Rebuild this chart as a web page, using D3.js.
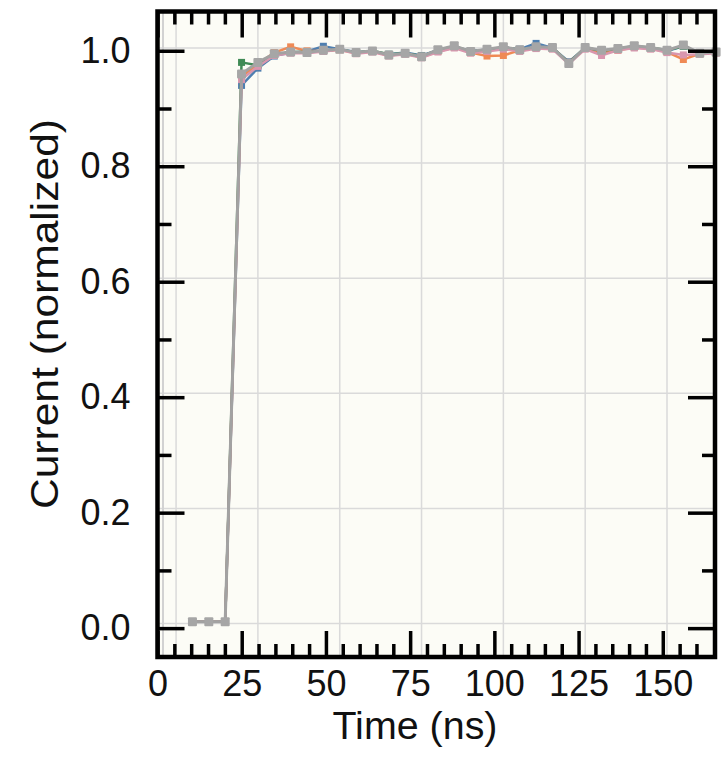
<!DOCTYPE html>
<html>
<head>
<meta charset="utf-8">
<script src="https://cdn.jsdelivr.net/npm/d3@7"></script>
<style>
  body { margin: 0; background: #fff; }
  text { font-family: "Liberation Sans", Arial, sans-serif; fill: #111; }
</style>
</head>
<body>
<script>
// time points (ns)
const times = [5, 10, 15, 20, 25, 30, 35, 40, 45, 50, 55, 60, 65, 70, 75, 80, 85, 90, 95, 100,
  105, 110, 115, 120, 125, 130, 135, 140, 145, 150, 155, 160, 165];

// normalized current for each trace
const grayVals = [0.003, 0.003, 0.003, 0.955, 0.975, 0.990, 0.993, 0.992, 0.996, 0.998, 0.992, 0.995, 0.988, 0.991, 0.985, 0.997, 1.004,
  0.994, 0.998, 1.002, 0.997, 1.002, 1.001, 0.973, 1.001, 0.996, 0.999, 1.004, 1.001, 0.996, 1.005, 0.991, 0.993];
const blueVals = [0.003, 0.003, 0.003, 0.935, 0.965, 0.986, 0.992, 0.994, 1.003, 0.998, 0.993, 0.994, 0.989, 0.992, 0.987, 0.996, 1.002,
  0.995, 0.997, 1.001, 0.998, 1.008, 1.000, 0.976, 1.000, 0.995, 0.998, 1.003, 1.000, 0.995, 1.003, 0.992, 0.994];
const orangeVals = [0.003, 0.003, 0.003, 0.950, 0.972, 0.992, 1.002, 0.995, 0.995, 0.997, 0.991, 0.994, 0.987, 0.990, 0.984, 0.994, 1.001,
  0.992, 0.986, 0.987, 0.996, 1.000, 0.999, 0.975, 0.999, 0.991, 0.996, 1.001, 0.999, 0.993, 0.980, 0.990, 0.992];
const greenVals = [0.003, 0.003, 0.003, 0.975, 0.970, 0.988, 0.993, 0.993, 0.995, 0.998, 0.992, 0.995, 0.989, 0.991, 0.986, 0.996, 1.003,
  0.994, 0.997, 1.001, 0.997, 1.001, 1.001, 0.974, 1.001, 0.995, 0.999, 1.003, 1.001, 0.996, 1.003, 0.991, 0.993];
const pinkVals = [0.003, 0.003, 0.003, 0.945, 0.968, 0.987, 0.991, 0.991, 0.994, 0.997, 0.990, 0.993, 0.986, 0.989, 0.983, 0.993, 1.000,
  0.991, 0.994, 0.998, 0.994, 0.999, 0.998, 0.972, 0.998, 0.987, 0.996, 1.000, 0.998, 0.992, 0.988, 0.989, 0.991];

const xMajor = [0, 25, 50, 75, 100, 125, 150];
const xMinor = [5, 10, 15, 20, 30, 35, 40, 45, 55, 60, 65, 70, 80, 85, 90, 95, 105, 110, 115, 120, 130, 135, 140, 145, 155, 160];
const yMajor = [0, 0.2, 0.4, 0.6, 0.8, 1.0];
const yMinor = [0.1, 0.3, 0.5, 0.7, 0.9];
const gridX = [0, 25, 50, 75, 100, 125, 150];
const gridY = [0, 0.2, 0.4, 0.6, 0.8, 1.0];

const traces = [
  { vals: blueVals, color: "#4f7fb0" },
  { vals: orangeVals, color: "#ef8a55" },
  { vals: greenVals, color: "#3f8a55" },
  { vals: pinkVals, color: "#d996ae" }
];

document.addEventListener("DOMContentLoaded", () => {
  var w = 728, h = 770;
  var pLeft = 157.5, pRight = 715, pTop = 11.5, pBottom = 657;

  var svg = d3.select("body").append("svg")
    .attr("width", w)
    .attr("height", h);

  // axis scales (ticks and labels)
  var xa = d3.scaleLinear().domain([0, 165.5]).range([pLeft, pRight]);
  var ya = d3.scaleLinear().domain([-0.05, 1.068]).range([pBottom, pTop]);
  // inner plot scales (grid and data sit slightly offset from the frame ticks)
  var xi = d3.scaleLinear().domain([-4, 150]).range([163, 667]);
  var yi = d3.scaleLinear().domain([0, 1]).range([623.5, 48]);

  svg.append("rect")
    .attr("x", pLeft).attr("y", pTop)
    .attr("width", pRight - pLeft).attr("height", pBottom - pTop)
    .attr("fill", "#fcfcf6");

  // grid
  svg.append("g").selectAll("line")
    .data(gridX).enter().append("line")
    .attr("x1", d => xi(d)).attr("x2", d => xi(d))
    .attr("y1", pTop).attr("y2", pBottom)
    .attr("stroke", "#dadada").attr("stroke-width", 1.5);
  svg.append("g").selectAll("line")
    .data(gridY).enter().append("line")
    .attr("x1", pLeft).attr("x2", pRight)
    .attr("y1", d => yi(d)).attr("y2", d => yi(d))
    .attr("stroke", "#dadada").attr("stroke-width", 1.5);
  svg.append("line")
    .attr("x1", xi(-4)).attr("x2", xi(-4))
    .attr("y1", pTop).attr("y2", pBottom)
    .attr("stroke", "#d2d2d2").attr("stroke-width", 2);

  // traces
  var line = d3.line().x((d, i) => xi(times[i])).y(d => yi(d));

  traces.forEach(function (t) {
    svg.append("path").datum(t.vals)
      .attr("d", line)
      .attr("fill", "none")
      .attr("stroke", t.color)
      .attr("stroke-width", 2.5);
    svg.append("g").selectAll("rect")
      .data(t.vals).enter().append("rect")
      .attr("x", (d, i) => xi(times[i]) - 3.5)
      .attr("y", d => yi(d) - 3.5)
      .attr("width", 7).attr("height", 7)
      .attr("fill", t.color);
  });

  svg.append("path").datum(grayVals)
    .attr("d", line)
    .attr("fill", "none")
    .attr("stroke", "#a2a2a2")
    .attr("stroke-width", 3);
  svg.append("g").selectAll("rect")
    .data(grayVals).enter().append("rect")
    .attr("x", (d, i) => xi(times[i]) - 4.5)
    .attr("y", d => yi(d) - 4.5)
    .attr("width", 9).attr("height", 9)
    .attr("rx", 1)
    .attr("fill", "#a6a6a6");

  // ticks on all four sides, pointing inward
  function styleAxis(g) {
    g.select(".domain").remove();
    g.selectAll(".tick line").attr("stroke", "#000").attr("stroke-width", 3.5);
    g.selectAll(".tick text").style("font-size", "36px").attr("fill", "#111");
  }

  svg.append("g").attr("transform", `translate(0,${pBottom})`)
    .call(d3.axisBottom(xa).tickValues(xMajor).tickSize(-26).tickPadding(13).tickFormat(d3.format("d")))
    .call(styleAxis);
  svg.append("g").attr("transform", `translate(0,${pBottom})`)
    .call(d3.axisBottom(xa).tickValues(xMinor).tickSize(-13).tickFormat(""))
    .call(styleAxis);
  svg.append("g").attr("transform", `translate(0,${pTop})`)
    .call(d3.axisTop(xa).tickValues(xMajor).tickSize(-26).tickFormat(""))
    .call(styleAxis);
  svg.append("g").attr("transform", `translate(0,${pTop})`)
    .call(d3.axisTop(xa).tickValues(xMinor).tickSize(-13).tickFormat(""))
    .call(styleAxis);

  svg.append("g").attr("transform", `translate(${pLeft},0)`)
    .call(d3.axisLeft(ya).tickValues(yMajor).tickSize(-27).tickPadding(27).tickFormat(d3.format(".1f")))
    .call(styleAxis);
  svg.append("g").attr("transform", `translate(${pLeft},0)`)
    .call(d3.axisLeft(ya).tickValues(yMinor).tickSize(-14).tickFormat(""))
    .call(styleAxis);
  svg.append("g").attr("transform", `translate(${pRight},0)`)
    .call(d3.axisRight(ya).tickValues(yMajor).tickSize(-27).tickFormat(""))
    .call(styleAxis);
  svg.append("g").attr("transform", `translate(${pRight},0)`)
    .call(d3.axisRight(ya).tickValues(yMinor).tickSize(-13).tickFormat(""))
    .call(styleAxis);

  // frame
  svg.append("rect")
    .attr("x", pLeft).attr("y", pTop)
    .attr("width", pRight - pLeft).attr("height", pBottom - pTop)
    .attr("fill", "none")
    .attr("stroke", "#000")
    .attr("stroke-width", 4.5);

  // titles
  svg.append("text")
    .attr("x", 415).attr("y", 739)
    .attr("text-anchor", "middle")
    .style("font-size", "38px")
    .attr("textLength", 165)
    .attr("lengthAdjust", "spacingAndGlyphs")
    .text("Time (ns)");

  svg.append("text")
    .attr("transform", "translate(58,314) rotate(-90)")
    .attr("text-anchor", "middle")
    .style("font-size", "38px")
    .attr("textLength", 390)
    .attr("lengthAdjust", "spacingAndGlyphs")
    .text("Current (normalized)");
});
</script>
</body>
</html>
